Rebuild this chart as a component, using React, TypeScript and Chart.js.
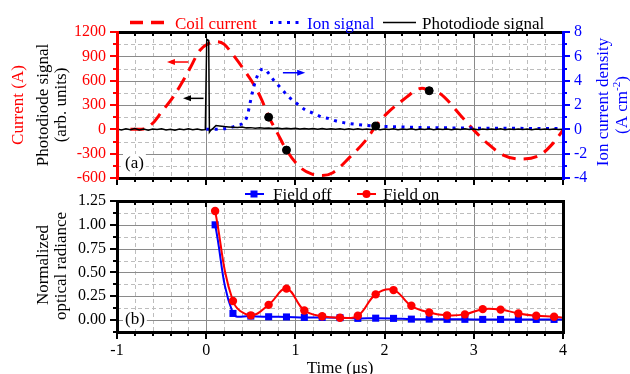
import React, { useEffect, useRef } from 'react';
import { Chart, registerables } from 'chart.js';
Chart.register(...registerables);

const SERIF = '"Liberation Serif", "Times New Roman", serif';
const RED = '#ff0000';
const BLUE = '#0000ff';

// ---------- Panel (a) data ----------
const coilTime = [-0.85, -0.7, -0.6, -0.5, -0.37, -0.2, -0.07, 0.03, 0.12, 0.2, 0.3, 0.42, 0.53, 0.62, 0.7, 0.8, 0.9, 1.05, 1.18, 1.3, 1.42, 1.61, 1.8, 1.9, 2.03, 2.25, 2.36, 2.42, 2.5, 2.62, 2.85, 3.0, 3.15, 3.33, 3.52, 3.74, 3.89, 4.0];
const coilCurrent = [0, 5, 75, 215, 400, 715, 975, 1060, 1080, 1050, 920, 740, 560, 370, 160, -50, -256, -466, -550, -570, -535, -343, -120, 40, 200, 400, 490, 505, 480, 443, 175, -10, -170, -318, -367, -318, -170, -10];

const ionTime = [0, 0.1, 0.2, 0.3, 0.36, 0.42, 0.46, 0.49, 0.52, 0.55, 0.6, 0.65, 0.7, 0.75, 0.81, 0.87, 0.92, 1.02, 1.11, 1.21, 1.3, 1.37, 1.45, 1.58, 1.69, 1.8, 1.95, 2.17, 2.4, 2.7, 3.0, 3.5, 4.0];
const ionDensity = [0, 0, 0.05, 0.2, 0.35, 0.55, 1.1, 2.1, 3.1, 3.9, 4.8, 4.95, 4.6, 4.1, 3.6, 3.1, 2.7, 2.1, 1.6, 1.3, 1.0, 0.9, 0.7, 0.5, 0.4, 0.32, 0.25, 0.2, 0.15, 0.12, 0.1, 0.08, 0.07];

const pdTime = [-1.0, -0.95, -0.9, -0.85, -0.8, -0.75, -0.7, -0.65, -0.6, -0.55, -0.5, -0.45, -0.4, -0.35, -0.3, -0.25, -0.2, -0.15, -0.1, -0.05, -0.01, 0.006, 0.028, 0.036, 0.05, 0.08, 0.11, 0.15, 0.2, 0.25, 0.3, 0.35, 0.4, 0.45, 0.5, 0.55, 0.6, 0.65, 0.7, 0.75, 0.8, 0.85, 0.9, 0.95, 1.0, 1.05, 1.1, 1.15, 1.2, 1.25, 1.3, 1.35, 1.4, 1.45, 1.5, 1.55, 1.6, 1.65, 1.7, 1.75, 1.8, 1.85, 1.9, 1.95, 2.0, 2.05, 2.1, 2.15, 2.2, 2.25, 2.3, 2.35, 2.4, 2.45, 2.5, 2.55, 2.6, 2.65, 2.7, 2.75, 2.8, 2.85, 2.9, 2.95, 3.0, 3.05, 3.1, 3.15, 3.2, 3.25, 3.3, 3.35, 3.4, 3.45, 3.5, 3.55, 3.6, 3.65, 3.7, 3.75, 3.8, 3.85, 3.9, 3.95, 4.0];
const pdSignal = [4, -9, 6, -4, 9, -7, 3, -11, 5, -3, 8, -8, 2, -12, 4, -6, 7, -5, 3, -9, -4, 1110, 1095, -35, -12, 15, 48, 42, 35, 30, 26, 22, 28, 18, 21, 14, 19, 12, 17, 9, 15, 8, 13, 6, 12, 4, 11, 3, 10, 2, 9, 0, 8, 1, 7, -2, 6, -1, 8, -3, 5, -2, 7, -4, 5, -3, 6, -5, 4, -2, 7, -4, 3, -3, 6, -5, 4, -2, 5, -4, 3, -3, 6, -2, 4, -4, 5, -3, 3, -2, 6, -4, 4, -3, 5, -2, 3, -4, 5, -3, 4, -2, 5, -3, 2];

const markerTime = [0.7, 0.9, 1.9, 2.5];
const markerCurrent = [150, -256, 40, 476];

// arrows: start, end (head), level, axis
const arrowStart = [-0.2, -0.03, 0.86];
const arrowEnd = [-0.44, -0.26, 1.11];
const arrowLevel = [830, 382, 4.65];
const arrowAxis = ['yL', 'yL', 'yR'];
const arrowColor = [RED, '#000000', BLUE];

const legendA = ['Coil current', 'Ion signal', 'Photodiode signal'];

// ---------- Panel (b) data ----------
const delayTime = [0.1, 0.3, 0.5, 0.7, 0.9, 1.1, 1.3, 1.5, 1.7, 1.9, 2.1, 2.3, 2.5, 2.7, 2.9, 3.1, 3.3, 3.5, 3.7, 3.9, 4.0];
const fieldOff = [1.0, 0.07, 0.042, 0.035, 0.033, 0.028, 0.028, 0.025, 0.018, 0.02, 0.018, 0.01, 0.01, 0.008, 0.008, 0.007, 0.007, 0.007, 0.007, 0.007, 0.007];
const fieldOn = [1.145, 0.2, 0.05, 0.16, 0.33, 0.1, 0.04, 0.025, 0.045, 0.27, 0.315, 0.15, 0.08, 0.05, 0.06, 0.115, 0.11, 0.07, 0.045, 0.035, 0.025];
const legendB = ['Field off', 'Field on'];

const xTickValues = [-1, 0, 1, 2, 3, 4];
const radianceTicks = [0, 0.25, 0.5, 0.75, 1.0, 1.25];

const pts = (xs: number[], ys: number[]) => xs.map((x, i) => ({ x, y: ys[i] }));

// ---------- drawing helpers ----------
function seg(ctx: CanvasRenderingContext2D, x1: number, y1: number, x2: number, y2: number, color: string, w: number, dash: number[] = []) {
  ctx.save();
  ctx.strokeStyle = color;
  ctx.lineWidth = w;
  ctx.setLineDash(dash);
  ctx.beginPath();
  ctx.moveTo(x1, y1);
  ctx.lineTo(x2, y2);
  ctx.stroke();
  ctx.restore();
}
const crisp = (p: number) => Math.round(p) + 0.5;

function drawGrid(ctx: CanvasRenderingContext2D, a: any, xs: { p: number; major: boolean }[], ys: { p: number; major: boolean }[]) {
  for (const g of xs) {
    const x = crisp(g.p);
    seg(ctx, x, a.top, x, a.bottom, g.major ? '#8a8a8a' : '#bdbdbd', 1, g.major ? [] : [4, 3]);
  }
  for (const g of ys) {
    const y = crisp(g.p);
    seg(ctx, a.left, y, a.right, y, g.major ? '#8a8a8a' : '#bdbdbd', 1, g.major ? [] : [4, 3]);
  }
}

function rotText(ctx: CanvasRenderingContext2D, text: string, x: number, y: number, color: string, size = 17) {
  ctx.save();
  ctx.translate(x, y);
  ctx.rotate(-Math.PI / 2);
  ctx.font = `${size}px ${SERIF}`;
  ctx.fillStyle = color;
  ctx.textAlign = 'center';
  ctx.textBaseline = 'middle';
  ctx.fillText(text, 0, 0);
  ctx.restore();
}

function panelLabel(ctx: CanvasRenderingContext2D, text: string, x: number, baseline: number) {
  ctx.save();
  ctx.font = `17px ${SERIF}`;
  const w = ctx.measureText(text).width;
  ctx.fillStyle = '#ffffff';
  ctx.fillRect(x - 2, baseline - 14, w + 4, 19);
  ctx.fillStyle = '#000';
  ctx.textAlign = 'left';
  ctx.textBaseline = 'alphabetic';
  ctx.fillText(text, x, baseline);
  ctx.restore();
}

function drawArrow(ctx: CanvasRenderingContext2D, x1: number, x2: number, y: number, color: string) {
  const dir = Math.sign(x2 - x1);
  seg(ctx, x1, y, x2 - dir * 3, y, color, 1.5);
  ctx.save();
  ctx.fillStyle = color;
  ctx.beginPath();
  ctx.moveTo(x2, y);
  ctx.lineTo(x2 - dir * 8, y - 3);
  ctx.lineTo(x2 - dir * 8, y + 3);
  ctx.closePath();
  ctx.fill();
  ctx.restore();
}

function range(a: number, b: number) {
  const out: number[] = [];
  for (let k = a; k <= b; k++) out.push(k);
  return out;
}

const panelAPlugin = {
  id: 'panelA',
  beforeDatasetsDraw(chart: any) {
    const { ctx, chartArea: a, scales } = chart;
    const xs = range(-4, 19).map((k) => ({ p: scales.x.getPixelForValue(k / 5), major: k % 5 === 0 }));
    const ys = range(-3, 7).map((k) => ({ p: scales.yL.getPixelForValue(150 * k), major: k % 2 === 0 }));
    drawGrid(ctx, a, xs, ys);
  },
  afterDatasetsDraw(chart: any) {
    const { ctx, chartArea: a, scales } = chart;
    // arrows
    arrowStart.forEach((s, i) => {
      const ys = scales[arrowAxis[i]];
      drawArrow(ctx, scales.x.getPixelForValue(s), scales.x.getPixelForValue(arrowEnd[i]), ys.getPixelForValue(arrowLevel[i]), arrowColor[i]);
    });
    panelLabel(ctx, '(a)', a.left + 8, a.bottom - 10);
    // ticks
    range(-4, 8).forEach((k) => {
      const len = k % 2 === 0 ? 7 : 4;
      const yl = Math.round(scales.yL.getPixelForValue(150 * k));
      seg(ctx, a.left - len, yl, a.left, yl, RED, 2);
      const yr = Math.round(scales.yR.getPixelForValue(k));
      seg(ctx, a.right, yr, a.right + len, yr, BLUE, 2);
    });
    range(-5, 20).forEach((k) => {
      const x = Math.round(scales.x.getPixelForValue(k / 5));
      const len = k % 5 === 0 ? 7 : 4;
      seg(ctx, x, a.bottom, x, a.bottom + len, '#000', 2);
      seg(ctx, x, a.top, x, a.top + (k % 5 === 0 ? 6 : 4), '#000', 2);
    });
    // frame
    const L = crisp(a.left), R = crisp(a.right), T = crisp(a.top), B = crisp(a.bottom);
    seg(ctx, L - 1.5, T, R + 1.5, T, '#000', 3);
    seg(ctx, L - 1.5, B, R + 1.5, B, '#000', 3);
    seg(ctx, L, T - 1.5, L, B + 1.5, RED, 3);
    seg(ctx, R, T - 1.5, R, B + 1.5, BLUE, 3);
  },
  afterDraw(chart: any) {
    const { ctx } = chart;
    // legend
    ctx.save();
    ctx.font = `17px ${SERIF}`;
    ctx.textBaseline = 'alphabetic';
    ctx.textAlign = 'left';
    const ly = 22.5;
    seg(ctx, 130, ly, 164, ly, RED, 3.5, [13, 8]);
    ctx.fillStyle = RED;
    ctx.fillText(legendA[0], 175, 29);
    seg(ctx, 270, ly, 300, ly, BLUE, 3, [3, 5.5]);
    ctx.fillStyle = BLUE;
    ctx.fillText(legendA[1], 307, 29);
    seg(ctx, 383, ly, 416, ly, '#000', 1.5);
    ctx.fillStyle = '#000';
    ctx.fillText(legendA[2], 422, 29);
    ctx.restore();
    // axis titles
    rotText(ctx, 'Current (A)', 19, 105, RED);
    rotText(ctx, 'Photodiode signal', 43.5, 105, '#000');
    rotText(ctx, '(arb. units)', 61.5, 105, '#000');
    rotText(ctx, 'Ion current density', 604, 102, BLUE);
    // (A cm-2) with superscript
    ctx.save();
    ctx.translate(623, 105);
    ctx.rotate(-Math.PI / 2);
    ctx.fillStyle = BLUE;
    ctx.textBaseline = 'middle';
    ctx.textAlign = 'left';
    ctx.font = `17px ${SERIF}`;
    const t1 = '(A cm', t3 = ')', t2 = '-2';
    const w1 = ctx.measureText(t1).width, w3 = ctx.measureText(t3).width;
    ctx.font = `11px ${SERIF}`;
    const w2 = ctx.measureText(t2).width;
    let x0 = -(w1 + w2 + w3) / 2;
    ctx.font = `17px ${SERIF}`;
    ctx.fillText(t1, x0, 0);
    ctx.font = `11px ${SERIF}`;
    ctx.fillText(t2, x0 + w1, -6);
    ctx.font = `17px ${SERIF}`;
    ctx.fillText(t3, x0 + w1 + w2, 0);
    ctx.restore();
  },
};

const panelBPlugin = {
  id: 'panelB',
  beforeDatasetsDraw(chart: any) {
    const { ctx, chartArea: a, scales } = chart;
    const xs = range(-4, 19).map((k) => ({ p: scales.x.getPixelForValue(k / 5), major: k % 5 === 0 }));
    const ys = range(0, 9).map((k) => ({ p: scales.y.getPixelForValue(0.125 * k), major: k % 2 === 0 }));
    drawGrid(ctx, a, xs, ys);
    panelLabel(ctx, '(b)', a.left + 8, a.bottom - 8);
  },
  afterDatasetsDraw(chart: any) {
    const { ctx, chartArea: a, scales } = chart;
    range(-1, 10).forEach((k) => {
      const len = k % 2 === 0 ? 7 : 4;
      const y = Math.round(scales.y.getPixelForValue(0.125 * k));
      seg(ctx, a.left - len, y, a.left, y, '#000', 2);
    });
    range(-5, 20).forEach((k) => {
      const x = Math.round(scales.x.getPixelForValue(k / 5));
      const len = k % 5 === 0 ? 7 : 4;
      seg(ctx, x, a.bottom, x, a.bottom + len, '#000', 2);
      seg(ctx, x, a.top, x, a.top + (k % 5 === 0 ? 6 : 4), '#000', 2);
    });
    const L = crisp(a.left), R = crisp(a.right), T = crisp(a.top), B = crisp(a.bottom);
    seg(ctx, L - 1.5, T, R + 1.5, T, '#000', 3);
    seg(ctx, L - 1.5, B, R + 1.5, B, '#000', 3);
    seg(ctx, L, T - 1.5, L, B + 1.5, '#000', 3);
    seg(ctx, R, T - 1.5, R, B + 1.5, '#000', 3);
  },
  afterDraw(chart: any) {
    const { ctx } = chart;
    ctx.save();
    ctx.font = `17px ${SERIF}`;
    ctx.textBaseline = 'alphabetic';
    ctx.textAlign = 'left';
    const ly = 194;
    seg(ctx, 245, ly, 264, ly, BLUE, 2);
    ctx.fillStyle = BLUE;
    ctx.fillRect(250.5, ly - 3.5, 7, 7);
    ctx.fillStyle = '#000';
    ctx.fillText(legendB[0], 273, 199.5);
    seg(ctx, 357, ly, 376, ly, RED, 2);
    ctx.fillStyle = RED;
    ctx.beginPath();
    ctx.arc(366.5, ly, 4, 0, Math.PI * 2);
    ctx.fill();
    ctx.fillStyle = '#000';
    ctx.fillText(legendB[1], 383, 199.5);
    // titles
    ctx.textAlign = 'center';
    ctx.fillText('Time (\u03bcs)', 340, 373);
    ctx.restore();
    rotText(ctx, 'Normalized', 43.5, 265, '#000');
    rotText(ctx, 'optical radiance', 61.5, 266, '#000');
  },
};

const tickFont = { family: SERIF, size: 16 };

export default function App() {
  const refA = useRef<HTMLCanvasElement>(null);
  const refB = useRef<HTMLCanvasElement>(null);

  useEffect(() => {
    const chartA = new Chart(refA.current as HTMLCanvasElement, {
      type: 'line',
      data: {
        datasets: [
          {
            label: 'markers',
            data: pts(markerTime, markerCurrent),
            yAxisID: 'yL',
            showLine: false,
            pointRadius: 4,
            pointBackgroundColor: '#000',
            pointBorderColor: '#000',
            order: 0,
          },
          {
            label: legendA[2],
            data: pts(pdTime, pdSignal),
            yAxisID: 'yL',
            borderColor: '#000',
            borderWidth: 1.5,
            pointRadius: 0,
            tension: 0,
            order: 1,
          },
          {
            label: legendA[1],
            data: pts(ionTime, ionDensity),
            yAxisID: 'yR',
            borderColor: BLUE,
            borderWidth: 3,
            borderDash: [3, 5.5],
            pointRadius: 0,
            cubicInterpolationMode: 'monotone',
            order: 2,
          },
          {
            label: legendA[0],
            data: pts(coilTime, coilCurrent),
            yAxisID: 'yL',
            borderColor: RED,
            borderWidth: 3,
            borderDash: [14, 8],
            pointRadius: 0,
            cubicInterpolationMode: 'monotone',
            order: 3,
          },
        ],
      },
      options: {
        responsive: false,
        maintainAspectRatio: false,
        animation: false,
        layout: { padding: { top: 32, left: 0, right: 0, bottom: 0 } },
        plugins: { legend: { display: false }, tooltip: { enabled: false } },
        scales: {
          x: {
            type: 'linear',
            min: -1,
            max: 4,
            ticks: { display: false },
            grid: { display: false, drawTicks: false },
            border: { display: false },
            afterFit: (s: any) => { s.height = 196; },
          },
          yL: {
            type: 'linear',
            position: 'left',
            min: -600,
            max: 1200,
            ticks: { stepSize: 300, color: RED, font: tickFont, padding: 11, callback: (v: any) => String(v) },
            grid: { display: false, drawTicks: false },
            border: { display: false },
            afterFit: (s: any) => { s.width = 117; },
          },
          yR: {
            type: 'linear',
            position: 'right',
            min: -4,
            max: 8,
            ticks: { stepSize: 2, color: BLUE, font: tickFont, padding: 11, callback: (v: any) => String(v) },
            grid: { display: false, drawTicks: false },
            border: { display: false },
            afterFit: (s: any) => { s.width = 67; },
          },
        },
      } as any,
      plugins: [panelAPlugin],
    } as any);

    const lastSmall = (n: number, r: number) => (ctx: any) => (ctx.dataIndex === n - 1 ? 0 : r);

    const chartB = new Chart(refB.current as HTMLCanvasElement, {
      type: 'line',
      data: {
        datasets: [
          {
            label: legendB[1],
            data: pts(delayTime, fieldOn),
            borderColor: RED,
            backgroundColor: RED,
            borderWidth: 2,
            pointStyle: 'circle',
            pointRadius: lastSmall(delayTime.length, 4.2),
            pointBorderWidth: 0,
            tension: 0.4,
            order: 1,
          },
          {
            label: legendB[0],
            data: pts(delayTime, fieldOff),
            borderColor: BLUE,
            backgroundColor: BLUE,
            borderWidth: 2,
            pointStyle: 'rect',
            pointRadius: lastSmall(delayTime.length, 5),
            pointBorderWidth: 0,
            tension: 0.4,
            order: 2,
          },
        ],
      },
      options: {
        responsive: false,
        maintainAspectRatio: false,
        animation: false,
        layout: { padding: { top: 201, left: 0, right: 67, bottom: 0 } },
        plugins: { legend: { display: false }, tooltip: { enabled: false } },
        scales: {
          x: {
            type: 'linear',
            min: -1,
            max: 4,
            afterBuildTicks: (s: any) => { s.ticks = xTickValues.map((v) => ({ value: v })); },
            ticks: { color: '#000', font: tickFont, padding: 9, callback: (v: any) => String(v) },
            grid: { display: false, drawTicks: false },
            border: { display: false },
            afterFit: (s: any) => { s.height = 42; },
          },
          y: {
            type: 'linear',
            position: 'left',
            min: -0.125,
            max: 1.25,
            afterBuildTicks: (s: any) => { s.ticks = radianceTicks.map((v) => ({ value: v })); },
            ticks: { color: '#000', font: tickFont, padding: 11, callback: (v: any) => Number(v).toFixed(2) },
            grid: { display: false, drawTicks: false },
            border: { display: false },
            afterFit: (s: any) => { s.width = 117; },
          },
        },
      } as any,
      plugins: [panelBPlugin],
    } as any);

    return () => {
      chartA.destroy();
      chartB.destroy();
    };
  }, []);

  return (
    <div style={{ position: 'fixed', left: 0, top: 0, width: 630, height: 374, background: '#ffffff', overflow: 'hidden' }}>
      <canvas ref={refA} width={630} height={374} style={{ position: 'absolute', left: 0, top: 0 }} />
      <canvas ref={refB} width={630} height={374} style={{ position: 'absolute', left: 0, top: 0 }} />
    </div>
  );
}
